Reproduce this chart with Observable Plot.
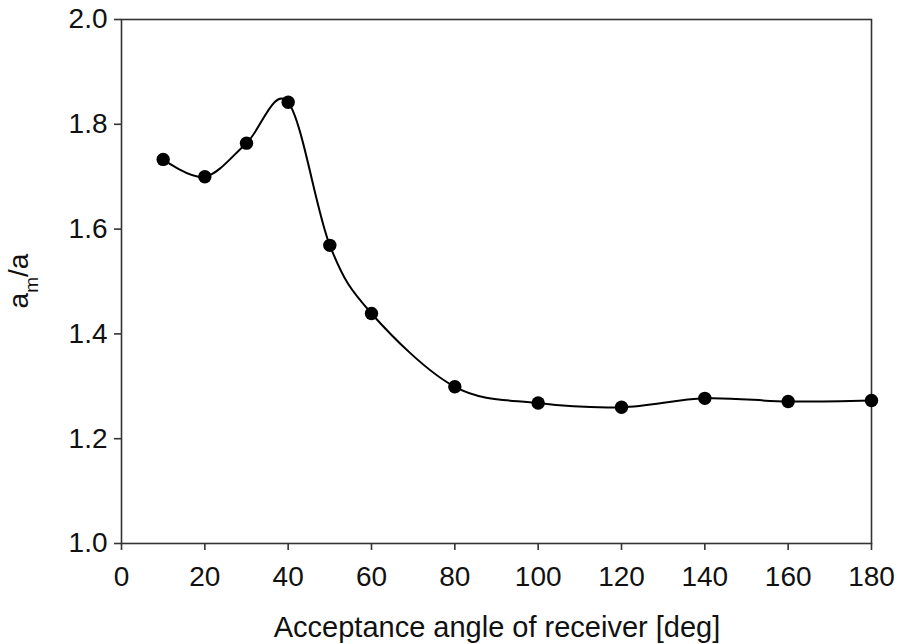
<!DOCTYPE html>
<html><head><meta charset="utf-8">
<script src="https://cdn.jsdelivr.net/npm/d3@7"></script>
<script src="https://cdn.jsdelivr.net/npm/@observablehq/plot@0.6"></script>
<style>body{margin:0;background:#fff} svg{display:block}</style>
</head><body><div id="chart"></div>
<script>
const angles = [10, 20, 30, 40, 50, 60, 80, 100, 120, 140, 160, 180];
const ratios = [1.733, 1.700, 1.764, 1.842, 1.569, 1.439, 1.299, 1.268, 1.260, 1.277, 1.271, 1.273];
const xTicks = [0, 20, 40, 60, 80, 100, 120, 140, 160, 180];
const yTicks = [1.0, 1.2, 1.4, 1.6, 1.8, 2.0];
const xLabel = "Acceptance angle of receiver [deg]";
const yLabelMain = "a", yLabelSub = "m", yLabelTail = "/a";

const data = angles.map((a, i) => ({angle: a, ratio: ratios[i]}));
const font = "'Liberation Sans', Arial, Helvetica, sans-serif";

const plot = Plot.plot({
  width: 900, height: 644,
  marginLeft: 121, marginRight: 29, marginTop: 19, marginBottom: 101,
  style: {fontFamily: font, fontSize: "28px", color: "#111", background: "#fff", overflow: "visible"},
  x: {domain: [0, 180]},
  y: {domain: [1, 2]},
  marks: [
    Plot.frame({stroke: "#333", strokeWidth: 1.6}),
    Plot.axisX({ticks: xTicks, tickSize: 7, tickPadding: 16, tickFormat: d => String(d), label: null, fontSize: 28, stroke: "#333", strokeWidth: 1.6, fill: "#111"}),
    Plot.axisY({ticks: yTicks, tickSize: 7, tickPadding: 7, tickFormat: d3.format(".1f"), label: null, fontSize: 28, stroke: "#333", strokeWidth: 1.6, fill: "#111"}),
    Plot.line(data, {x: "angle", y: "ratio", curve: "cardinal", stroke: "#000", strokeWidth: 2}),
    Plot.dot(data, {x: "angle", y: "ratio", r: 6.7, fill: "#000", stroke: "none"})
  ]
});

const svg = d3.select(plot);
svg.append("text")
  .attr("x", 497).attr("y", 637)
  .attr("text-anchor", "middle")
  .attr("font-family", font).attr("font-size", 29).attr("fill", "#111")
  .text(xLabel);

const yl = svg.append("text")
  .attr("transform", "translate(28,281) rotate(-90)")
  .attr("text-anchor", "middle")
  .attr("font-family", font).attr("font-size", 28).attr("fill", "#111");
yl.append("tspan").text(yLabelMain);
yl.append("tspan").attr("dy", 10).attr("font-size", 19).text(yLabelSub);
yl.append("tspan").attr("dy", -10).text(yLabelTail);

document.getElementById("chart").appendChild(plot);
</script>
</body></html>
